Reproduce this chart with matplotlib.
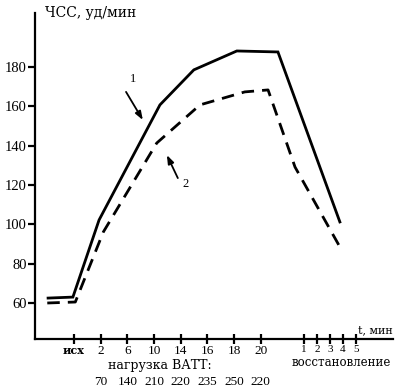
import matplotlib
matplotlib.use('Agg')
import matplotlib.pyplot as plt

# positions along x: load ticks sit at 1..8, recovery minutes squeezed after them
load_labels = ['исх', '2', '6', '10', '14', '16', '18', '20']
load_pos = [1, 2, 3, 4, 5, 6, 7, 8]
watts = ['70', '140', '210', '220', '235', '250', '220']
rec_labels = ['1', '2', '3', '4', '5']
rec_pos = [9.61, 10.10, 10.59, 11.07, 11.56]

hr1_x = [0.03, 0.96, 1.94, 4.22, 5.49, 7.10, 8.64, 10.96]
hr1_y = [62.5, 63, 102.2, 160.7, 178.5, 188.1, 187.6, 101.2]
hr2_x = [0.0, 1.05, 2.1, 4.1, 5.72, 7.4, 8.27, 9.28, 10.96]
hr2_y = [60, 60.5, 96.1, 141.3, 160.7, 167.3, 168.3, 129.1, 88.5]

y_ticks = [60, 80, 100, 120, 140, 160, 180]

serif = 'Liberation Serif'
cyr = 'DejaVu Serif'

fig = plt.figure(figsize=(4, 3.9), dpi=100)
ax = fig.add_axes([35/400, 51/390, 358/400, 326/390])

ax.plot(hr1_x, hr1_y, color='black', lw=2.0, solid_joinstyle='miter')
ax.plot(hr2_x, hr2_y, color='black', lw=2.0, dashes=(4.5, 2.9))

ax.set_xlim(-0.46, 12.95)
ax.set_ylim(41.7, 207.4)

for s in ['top', 'right']:
    ax.spines[s].set_visible(False)
for s in ['left', 'bottom']:
    ax.spines[s].set_linewidth(1.6)

ax.set_yticks(y_ticks)
ax.set_yticklabels([str(v) for v in y_ticks], fontfamily=serif, fontsize=10.5)
ax.tick_params(axis='y', direction='out', length=5, width=1.6, pad=1)

ax.set_xticks(load_pos)
ax.set_xticklabels(load_labels, fontfamily=serif, fontsize=9.5)
ax.set_xticks(rec_pos, minor=True)
ax.set_xticklabels(rec_labels, minor=True, fontfamily=serif, fontsize=8)
ax.tick_params(axis='x', which='both', direction='inout', length=7, width=1.6, pad=1)
ax.get_xticklabels()[0].set_fontweight('bold')
ax.get_xticklabels()[0].set_fontfamily(cyr)
ax.get_xticklabels()[0].set_fontsize(8)

# watts under the load ticks
for p, w in zip(load_pos[1:], watts):
    ax.annotate(w, xy=(p, 0), xycoords=('data', 'axes fraction'),
                xytext=(0, -31), textcoords='offset points',
                ha='center', va='center', fontfamily=serif, fontsize=9.5)

# curve labels with arrows
arr = dict(arrowstyle='-|>,head_length=0.5,head_width=0.18', color='black',
           lw=1.3, shrinkA=0, shrinkB=0)
ax.text(3.21, 173.9, '1', ha='center', va='center', fontfamily=serif, fontsize=9)
ax.annotate('', xy=(3.58, 153.0), xytext=(2.95, 167.3), arrowprops=arr)
ax.text(5.19, 120.5, '2', ha='center', va='center', fontfamily=serif, fontsize=9)
ax.annotate('', xy=(4.48, 135.2), xytext=(4.89, 123.5), arrowprops=arr)

fig.text(45/400, 1 - 13/390, 'ЧСС, уд/мин', fontfamily=cyr, fontsize=10,
         ha='left', va='center')
fig.text(393/400, 1 - 330/390, 't, мин', fontfamily=cyr, fontsize=8,
         ha='right', va='center')
fig.text(292/400, 1 - 362/390, 'восстановление', fontfamily=cyr, fontsize=8.5,
         ha='left', va='center')
fig.text(108/400, 1 - 366/390, 'нагрузка ВАТТ:', fontfamily=cyr, fontsize=9,
         ha='left', va='center')

fig.savefig('out.png', dpi=100)
